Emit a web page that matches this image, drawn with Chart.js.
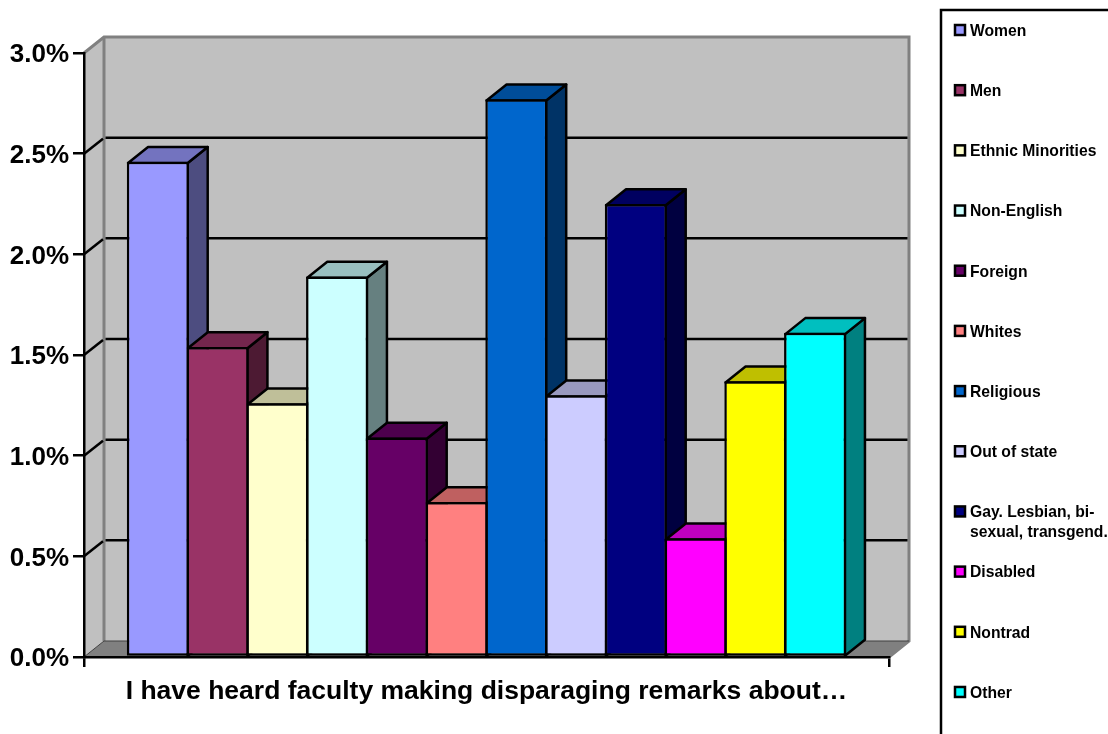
<!DOCTYPE html>
<html><head><meta charset="utf-8">
<style>html,body{margin:0;padding:0;background:#fff}canvas{display:block}</style>
<script src="https://cdn.jsdelivr.net/npm/chart.js@4"></script>
</head><body><canvas id="c" width="1108" height="734"></canvas>
<script>
const categories = ['I have heard faculty making disparaging remarks about…'];
const seriesNames = ['Women','Men','Ethnic Minorities','Non-English','Foreign','Whites','Religious','Out of state','Gay. Lesbian, bi-sexual, transgend.','Disabled','Nontrad','Other'];
const seriesValues = [2.46,1.54,1.26,1.89,1.09,0.77,2.77,1.30,2.25,0.59,1.37,1.61];
const seriesColors = ['#9999FF','#993366','#FFFFCC','#CCFFFF','#660066','#FF8080','#0066CC','#CCCCFF','#000080','#FF00FF','#FFFF00','#00FFFF'];
const tickStep = 0.5, axisMax = 3;
const DX = 20, DY = 16;
const FONT = '"Liberation Sans", Arial, sans-serif';

function shade(hex, f){
  const n = parseInt(hex.slice(1),16);
  return `rgb(${Math.round((n>>16&255)*f)},${Math.round((n>>8&255)*f)},${Math.round((n&255)*f)})`;
}
function poly(ctx, pts, fill, stroke, lw){
  ctx.beginPath();
  pts.forEach((p,i)=> i?ctx.lineTo(p[0],p[1]):ctx.moveTo(p[0],p[1]));
  ctx.closePath();
  if(fill){ctx.fillStyle=fill;ctx.fill();}
  if(stroke){ctx.strokeStyle=stroke;ctx.lineWidth=lw;ctx.lineJoin='round';ctx.stroke();}
}
const walls = {
  id:'walls',
  beforeDraw(chart){
    const {ctx,chartArea:a,scales:{y}} = chart;
    const L=a.left,R=a.right,T=a.top,B=a.bottom;
    ctx.save();
    poly(ctx,[[L,T],[L+DX,T-DY],[L+DX,B-DY],[L,B]],'#C0C0C0');
    poly(ctx,[[L+DX,T-DY],[R+DX,T-DY],[R+DX,B-DY],[L+DX,B-DY]],'#C0C0C0');
    poly(ctx,[[L,B],[L+DX,B-DY],[R+DX,B-DY],[R,B]],'#808080');
    ctx.strokeStyle='#808080';ctx.lineWidth=3;
    ctx.beginPath();
    ctx.moveTo(L,T);ctx.lineTo(L+DX,T-DY);ctx.lineTo(R+DX,T-DY);ctx.lineTo(R+DX,B-DY);ctx.lineTo(R,B);
    ctx.moveTo(L+DX,T-DY);ctx.lineTo(L+DX,B-DY);
    ctx.stroke();
    ctx.strokeStyle='#404040';ctx.lineWidth=1;
    ctx.beginPath();ctx.moveTo(L,B);ctx.lineTo(L+DX,B-DY);ctx.lineTo(R+DX,B-DY);ctx.stroke();
    ctx.strokeStyle='#000';ctx.lineWidth=2.5;
    y.ticks.forEach(t=>{
      if(t.value<=0||t.value>=axisMax) return;
      const p=y.getPixelForValue(t.value);
      ctx.beginPath();ctx.moveTo(L,p);ctx.lineTo(L+DX-1,p-DY+1);ctx.stroke();
      ctx.beginPath();ctx.moveTo(L+DX+1.5,p-DY);ctx.lineTo(R+DX-1.5,p-DY);ctx.stroke();
    });
    ctx.restore();
  },
  beforeDatasetsDraw(chart){
    const ctx=chart.ctx;
    ctx.save();
    chart.data.datasets.forEach((ds,i)=>{
      const el=chart.getDatasetMeta(i).data[0];
      const l=el.x-el.width/2+1.25, r=el.x+el.width/2-1.25, t=el.y+1.25, b=el.base;
      poly(ctx,[[r,t],[r+DX,t-DY],[r+DX,b-DY],[r,b]],shade(seriesColors[i],0.5),'#000',2.5);
      poly(ctx,[[l,t],[l+DX,t-DY],[r+DX,t-DY],[r,t]],shade(seriesColors[i],0.75),'#000',2.5);
    });
    ctx.restore();
  },
  afterDraw(chart){
    const ctx=chart.ctx;
    ctx.save();
    ctx.strokeStyle='#000';ctx.lineWidth=2.5;
    ctx.strokeRect(941,10,200,780);
    ctx.font='bold 15.7px '+FONT;
    ctx.textBaseline='middle';ctx.textAlign='left';
    chart.data.datasets.forEach((ds,i)=>{
      const y0=30+i*60.18;
      ctx.fillStyle=seriesColors[i];ctx.strokeStyle='#000';ctx.lineWidth=2.5;
      ctx.fillRect(955,y0-5,10,10);ctx.strokeRect(955,y0-5,10,10);
      ctx.fillStyle='#000';
      const tokens=ds.label.match(/[^\s-]+[-\s]*/g);
      const lines=[];let cur='';
      tokens.forEach(tk=>{
        if(cur && ctx.measureText((cur+tk).trim()).width>142){lines.push(cur.trim());cur=tk;}
        else cur+=tk;
      });
      lines.push(cur.trim());
      lines.forEach((s,k)=>ctx.fillText(s,970,y0+1.5+k*20));
    });
    ctx.restore();
  }
};
new Chart(document.getElementById('c'),{
  type:'bar',
  data:{
    labels:categories,
    datasets:seriesNames.map((n,i)=>({
      label:n,data:[seriesValues[i]],
      backgroundColor:seriesColors[i],borderColor:'#000',borderWidth:2.5,borderSkipped:false,
      categoryPercentage:0.8907,barPercentage:1.04
    }))
  },
  options:{
    responsive:false,animation:false,
    layout:{padding:{top:53,right:219,left:0,bottom:0}},
    plugins:{legend:{display:false},tooltip:{enabled:false},title:{display:false}},
    scales:{
      x:{
        afterFit(s){s.height=77;},
        grid:{drawOnChartArea:false,drawTicks:true,tickLength:10,color:'#000',lineWidth:2.5},
        border:{color:'#000',width:2.5},
        ticks:{color:'#000',font:{family:FONT,weight:'bold',size:26.5},padding:9,maxRotation:0,autoSkip:false}
      },
      y:{
        min:0,max:axisMax,
        afterFit(s){s.width=84;},
        grid:{drawOnChartArea:false,drawTicks:true,tickLength:11,color:'#000',lineWidth:2.5},
        border:{color:'#000',width:2.5},
        ticks:{stepSize:tickStep,color:'#000',padding:4,labelOffset:2,font:{family:FONT,weight:'bold',size:26},callback:v=>v.toFixed(1)+'%'}
      }
    }
  },
  plugins:[walls]
});
</script></body></html>
